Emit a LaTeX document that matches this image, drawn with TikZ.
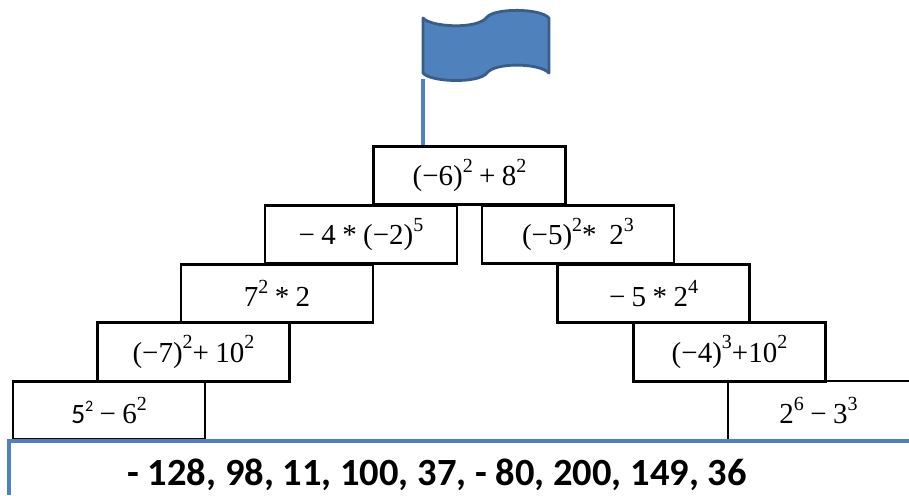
\documentclass[tikz,border=0pt]{standalone}
\usepackage[no-math]{fontspec}
\setmainfont{Carlito}
\newfontfamily\eqfont{Liberation Serif}
\definecolor{flagblue}{HTML}{4F81BD}
\definecolor{flagedge}{HTML}{385D8A}
\newcommand{\up}[1]{\raisebox{.46em}{\fontsize{20}{20}\selectfont #1}}
\newcommand{\gap}{\hspace{.22em}}
\tikzset{
  eq/.style={font=\fontsize{29}{30}\selectfont\eqfont},
  brick/.style={draw=black,line width=2.6pt,rectangle,inner sep=0pt,eq},
  wide/.style={brick,minimum width=192pt,minimum height=58.5pt},
  openbrick/.style={rectangle,inner sep=0pt,minimum width=181pt,minimum height=59pt,eq},
  thinedge/.style={draw=black,line width=2pt},
  blueline/.style={draw=flagblue,line width=3.6pt},
  answers/.style={rectangle,inner sep=0pt,font=\fontsize{38.5}{42}\selectfont\bfseries}
}
\begin{document}
\begin{tikzpicture}[x=1pt,y=-1pt]
\useasboundingbox (0,0) rectangle (909,495);
\fill[white] (0,0) rectangle (909,495);
% flag
\coordinate (poleTop) at (423,79);
\filldraw[fill=flagblue,draw=flagedge,line width=2.8pt,line join=round]
  (423,18) .. controls (430,27) and (478,30) .. (487,17)
  .. controls (495,8) and (540,8) .. (549,18)
  -- (549,73)
  .. controls (540,63) and (495,62) .. (487,73)
  .. controls (478,84) and (430,82) .. (423,73) -- cycle;
% bricks
\node[wide] (t) at (469.5,175.5) {(−6)\up{2}\gap+\gap 8\up{2}};
\node[wide] (l2) at (361,234.5) {−\gap 4\gap *\gap (−2)\up{5}};
\node[wide] (r2) at (578,234.5) {(−5)\up{2}*\gap\gap 2\up{3}};
\node[wide] (l3) at (277,293.5) {7\up{2}\gap *\gap 2};
\node[wide] (r3) at (653.5,293.5) {−\gap 5\gap *\gap 2\up{4}};
\node[wide] (l4) at (193.5,352) {(−7)\up{2}+\gap 10\up{2}};
\node[wide] (r4) at (729.5,352) {(−4)\up{3}+10\up{2}};
\node[wide] (l5) at (109,410.5) {{\fontsize{28}{28}\selectfont\rmfamily 5\raisebox{.42em}{\fontsize{16}{16}\selectfont 2}}\gap −\gap 6\up{2}};
\node[openbrick] (r5) at (818.5,410.5) {2\up{6}\gap −\gap 3\up{3}};
\draw[thinedge] (r5.south west) -- (r5.north west) -- (r5.north east);
% pole
\draw[blueline] (poleTop) -- (poleTop |- t.north);
% base
\node[answers] (base) at (437,475) {- 128, 98, 11, 100, 37, - 80, 200, 149, 36};
\coordinate (baseBL) at (9,495);
\coordinate (baseTL) at (9,441);
\coordinate (baseTR) at (909,441);
\draw[blueline] (baseBL) -- (baseTL) -- (baseTR);
\end{tikzpicture}
\end{document}
